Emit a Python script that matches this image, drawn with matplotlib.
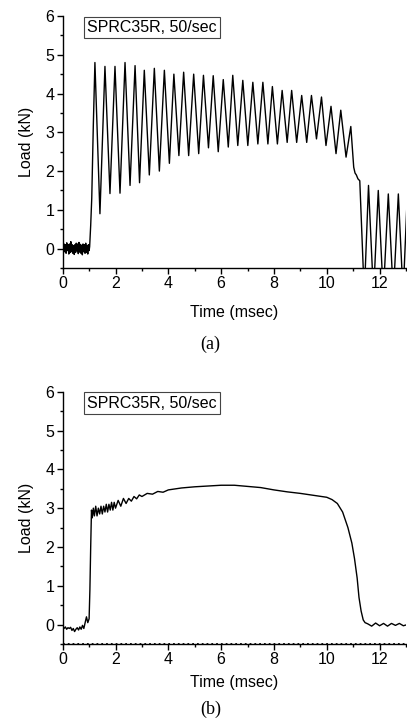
import numpy as np
import matplotlib
matplotlib.use("Agg")
import matplotlib.pyplot as plt
from matplotlib.ticker import MultipleLocator

plt.rcParams["font.family"] = ["Liberation Sans", "DejaVu Sans"]

LABEL = "SPRC35R, 50/sec"

# ---- panel (a): load signal with stress-wave oscillation ----
# baseline noise before loading (0 - 1 ms)
a_base_load = [0.05, -0.10, 0.12, -0.08, 0.10, -0.12, 0.15, -0.05, 0.10, -0.14,
               0.12, -0.10, 0.18, -0.08, 0.10, -0.12, 0.08, -0.15, 0.10, -0.10,
               0.14, -0.06, 0.12, -0.13, 0.16, -0.09, 0.11, -0.12, 0.09, -0.16,
               0.12, -0.08, 0.10, -0.12, 0.14, -0.10, 0.08, -0.14, 0.10, -0.05]
a_time = [1.02, 1.06, 1.10, 1.16, 1.22,
          1.41, 1.60, 1.79, 1.98, 2.17, 2.36, 2.55, 2.74, 2.91, 3.09,
          3.28, 3.47, 3.66, 3.85, 4.04, 4.21, 4.40, 4.58, 4.77, 4.96,
          5.15, 5.33, 5.52, 5.70, 5.89, 6.08, 6.27, 6.44, 6.63, 6.82,
          7.01, 7.20, 7.39, 7.58, 7.77, 7.94, 8.13, 8.31, 8.50, 8.67,
          8.86, 9.05, 9.24, 9.42, 9.61, 9.80, 9.97, 10.16, 10.35, 10.53,
          10.73, 10.91, 11.02, 11.07, 11.12, 11.18, 11.25,
          11.42, 11.58, 11.77, 11.95, 12.14, 12.33, 12.52, 12.71, 12.89, 13.03]
a_load = [0.05, 0.60, 1.30, 3.20, 4.80,
          0.90, 4.70, 1.42, 4.70, 1.43, 4.80, 1.63, 4.72, 1.70, 4.60,
          1.90, 4.65, 2.00, 4.60, 2.20, 4.50, 2.40, 4.55, 2.40, 4.50,
          2.45, 4.47, 2.60, 4.46, 2.50, 4.36, 2.62, 4.47, 2.66, 4.34,
          2.66, 4.29, 2.70, 4.29, 2.70, 4.18, 2.70, 4.08, 2.74, 4.08,
          2.74, 3.95, 2.74, 3.95, 2.83, 3.91, 2.66, 3.67, 2.45, 3.57,
          2.36, 3.15, 2.10, 1.95, 1.90, 1.80, 1.75,
          -1.20, 1.63, -1.20, 1.50, -1.20, 1.41, -1.20, 1.41, -1.20, 1.07]

# ---- panel (b): damped load signal ----
b_time = [0.00, 0.05, 0.10, 0.15, 0.20, 0.25, 0.30, 0.35, 0.40, 0.45,
          0.50, 0.55, 0.60, 0.65, 0.70, 0.75, 0.80, 0.85, 0.90, 0.95,
          1.00, 1.03, 1.06, 1.09, 1.12, 1.16, 1.20, 1.25, 1.30, 1.35,
          1.40, 1.45, 1.50, 1.55, 1.60, 1.65, 1.70, 1.75, 1.80, 1.85,
          1.90, 1.95, 2.00, 2.10, 2.20, 2.30, 2.40, 2.50, 2.60, 2.70,
          2.80, 2.90, 3.00, 3.20, 3.40, 3.60, 3.80, 4.00, 4.50, 5.00,
          5.50, 6.00, 6.50, 7.00, 7.50, 8.00, 8.50, 9.00, 9.50, 10.00,
          10.20, 10.40, 10.60, 10.80, 10.95, 11.05, 11.15, 11.22, 11.30, 11.38,
          11.45, 11.55, 11.70, 11.85, 12.00, 12.15, 12.30, 12.45, 12.60, 12.75,
          12.90, 13.00]
b_load = [-0.07, -0.10, -0.06, -0.12, -0.08, -0.10, -0.07, -0.15, -0.10, -0.18,
          -0.12, -0.08, -0.14, -0.06, -0.12, -0.02, -0.10, 0.05, 0.20, 0.05,
          0.15, 0.90, 2.00, 2.95, 2.75, 3.00, 2.80, 3.05, 2.80, 3.00,
          2.85, 3.05, 2.85, 3.05, 2.90, 3.10, 2.90, 3.10, 2.95, 3.15,
          2.95, 3.15, 3.00, 3.20, 3.05, 3.25, 3.12, 3.25, 3.18, 3.30,
          3.24, 3.34, 3.30, 3.38, 3.36, 3.43, 3.41, 3.47, 3.52, 3.55,
          3.57, 3.59, 3.59, 3.56, 3.53, 3.47, 3.42, 3.38, 3.33, 3.28,
          3.22, 3.12, 2.90, 2.50, 2.10, 1.70, 1.20, 0.70, 0.35, 0.12,
          0.05, 0.02, -0.04, 0.04, -0.03, 0.03, -0.04, 0.03, -0.02, 0.03,
          -0.03, -0.01]
b_floor_time = [0.0, 13.0]
b_floor_load = [-0.49, -0.49]

W, H = 407, 725
fig = plt.figure(figsize=(W / 100, H / 100), dpi=100)


def px_axes(left, top, right, bottom):
    return fig.add_axes([left / W, 1 - bottom / H, (right - left) / W, (bottom - top) / H])


def style(ax):
    ax.set_xlim(0, 13)
    ax.set_ylim(-0.5, 6)
    ax.spines["top"].set_visible(False)
    ax.spines["right"].set_visible(False)
    ax.xaxis.set_major_locator(MultipleLocator(2))
    ax.xaxis.set_minor_locator(MultipleLocator(1))
    ax.yaxis.set_major_locator(MultipleLocator(1))
    ax.yaxis.set_minor_locator(MultipleLocator(0.5))
    ax.tick_params(which="major", direction="out", length=4, width=1, labelsize=11.5, pad=2)
    ax.tick_params(which="minor", direction="out", length=2.5, width=1)
    for s in ("left", "bottom"):
        ax.spines[s].set_linewidth(1)
    ax.text(0.07, 0.955, LABEL, transform=ax.transAxes, fontsize=11.5, va="center", ha="left",
            bbox=dict(boxstyle="square,pad=0.2", fc="white", ec="#444444", lw=0.8))


ax1 = px_axes(62.7, 16, 406, 268)
t_base = np.linspace(0, 1.0, len(a_base_load))
ax1.plot(np.concatenate([t_base, a_time]), np.concatenate([a_base_load, a_load]),
         color="black", lw=1.0)
style(ax1)
ax1.set_ylabel("Load (kN)", fontsize=11.5, labelpad=8)
fig.text(234 / W, 1 - 312 / H, "Time (msec)", ha="center", va="center", fontsize=11.5)
fig.text(210 / W, 1 - 344 / H, "(a)", ha="center", va="center", fontsize=13,
         family="Liberation Serif")

ax2 = px_axes(62.7, 391.7, 406, 644)
ax2.plot(b_time, b_load, color="black", lw=1.0)
ax2.plot(b_floor_time, b_floor_load, color="black", lw=1.3, ls=":")
style(ax2)
ax2.set_ylabel("Load (kN)", fontsize=11.5, labelpad=8)
fig.text(234 / W, 1 - 683 / H, "Time (msec)", ha="center", va="center", fontsize=11.5)
fig.text(211 / W, 1 - 709 / H, "(b)", ha="center", va="center", fontsize=13,
         family="Liberation Serif")

fig.savefig("out.png", dpi=100)
